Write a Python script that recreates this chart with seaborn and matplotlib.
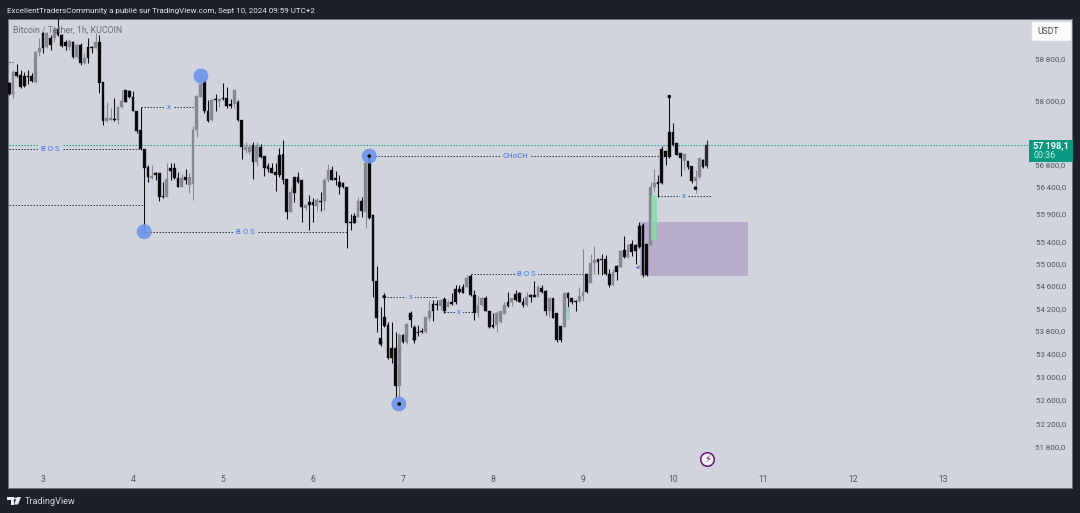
import matplotlib
matplotlib.use("Agg")
import matplotlib.pyplot as plt
from matplotlib.patches import Circle, FancyBboxPatch, Polygon, Rectangle
from matplotlib.ticker import NullLocator
from matplotlib.transforms import ScaledTranslation
import numpy as np
import pandas as pd
import seaborn as sns

# BTC/USDT hourly candles (open, high, low, close), hour 0 is midnight on the 3rd
first_hour = -9
candles = [
    (58360,58380,58130,58150),(58130,58610,58070,58570),(58570,58720,58470,58490),(58510,58610,58270,58280),
    (58490,58570,58280,58300),(58490,58610,58340,58470),(58490,58550,58380,58400),(58380,58970,58360,58950),
    (58950,59220,58880,59030),(59320,59340,58920,59030),(59050,59340,59030,59320),(59220,59280,58990,59090),
    (59220,59440,59140,59380),(59380,59610,59260,59280),(59280,59300,59050,59070),(59130,59180,58990,59070),
    (59050,59180,58990,59160),(59140,59160,58840,58860),(58860,59110,58840,59090),(59090,59110,58700,58740),
    (58740,58930,58720,58840),(59050,59220,58740,58840),(59050,59070,58920,59030),(59030,59320,59030,59130),
    (59130,59280,58170,58360),(58380,58380,57570,57640),(57640,58000,57620,57700),(57660,57890,57660,57700),
    (57680,58070,57640,57660),(57660,57910,57590,57910),(57910,58230,57890,58020),(58230,58230,58000,58000),
    (58210,58230,58080,58100),(58100,58210,57830,57830),(57830,57830,57420,57460),(57480,57910,57100,57120),
    (57120,57120,55620,56770),(56790,56830,56510,56610),(56590,56830,56570,56630),(56680,56700,56550,56640),
    (56680,56680,56170,56240),(56260,56520,56220,56240),(56240,56870,56240,56570),(56770,56870,56550,56720),
    (56770,56870,56570,56590),(56590,56700,56430,56430),(56430,56660,56430,56590),(56610,56760,56480,56550),
    (56460,56680,56320,56610),(56480,57550,56190,57480),(57480,58130,57350,58120),(58100,58510,58100,58340),
    (58420,58440,57790,57830),(57830,58040,57620,57640),(57660,58060,57640,58040),(58060,58150,57830,58040),
    (58020,58080,57910,58060),(58080,58360,58040,58060),(58080,58280,57890,57930),(57970,58060,57890,57930),
    (57970,58230,57890,58230),(58000,58040,57640,57660),(57660,57660,56940,57160),(57100,57250,57050,57160),
    (57070,57220,57030,57160),(57200,57250,56570,56880),(56880,57250,56830,57180),(57160,57220,56960,56980),
    (56990,56990,56630,56770),(56810,56870,56700,56760),(56770,56870,56680,56680),(56700,56870,56350,56640),
    (57010,57140,56610,56640),(57030,57290,56480,56550),(56570,56570,55840,55970),(55970,56420,55970,56330),
    (56610,56610,56150,56320),(56610,56700,56500,56520),(56550,56550,55790,56060),(56040,56100,56010,56100),
    (56150,56280,55640,56100),(56150,56220,55790,56100),(56080,56220,55990,56190),(56170,56330,55990,56150),
    (56170,56590,56010,56550),(56550,56850,56520,56740),(56740,56810,56550,56550),(56590,56720,56460,56550),
    (56520,56650,56300,56430),(56500,56520,56410,56430),(56430,56430,55320,55770),(55790,55930,55640,55770),
    (55900,55950,55770,55770),(55880,56240,55880,56170),(56170,56240,55880,55990),(55970,56890,55680,56870),
    (56960,57050,55840,55860),(55910,55910,54450,54730),(54730,55000,53830,54080),(53730,54270,53590,53640),
    (54100,54520,53920,53940),(53960,54010,53360,53380),(53560,54010,53300,53380),(53560,53830,52690,52900),
    (52900,53810,52560,53780),(53780,53800,53640,53660),(53660,53990,53620,53970),(54170,54190,53920,54040),
    (53920,53960,53640,53690),(53830,53960,53760,53810),(53850,53900,53810,53830),(53830,54100,53810,54100),
    (54080,54400,54030,54190),(54330,54400,54030,54190),(54330,54400,54220,54310),(54290,54410,54220,54400),
    (54410,54450,54170,54190),(54260,54400,54260,54360),(54350,54520,54310,54330),(54590,54660,54330,54350),
    (54590,54660,54520,54540),(54630,54680,54520,54520),(54630,54840,54630,54790),(54810,54860,54470,54480),
    (54480,54570,54040,54170),(54170,54470,54100,54310),(54310,54450,54280,54420),(54430,54470,54190,54190),
    (54190,54190,53900,53920),(53960,54170,53900,53920),(53960,54190,53830,54170),(54010,54190,53990,54190),
    (54150,54360,54150,54310),(54360,54540,54260,54290),(54350,54430,54280,54420),(54500,54560,54380,54400),
    (54520,54540,54350,54350),(54360,54430,54260,54310),(54310,54540,54290,54450),(54480,54500,54350,54450),
    (54480,54730,54450,54450),(54450,54660,54450,54630),(54610,54660,54520,54540),(54550,54570,54130,54200),
    (54200,54430,54100,54420),(54420,54430,54080,54080),(54170,54170,53660,53690),(53940,53940,53660,53690),
    (53920,54540,53920,54520),(54520,54540,54260,54420),(54430,54430,54330,54350),(54380,54400,54200,54350),
    (54380,54630,54360,54470),(54470,55300,54380,54540),(54860,54860,54520,54540),(54700,55210,54700,55050),
    (55050,55350,54860,55100),(55120,55120,54860,55070),(55120,55210,54840,55100),(55120,55190,54840,54860),
    (54860,54950,54630,54660),(54660,54950,54640,54880),(55000,55010,54750,54880),(54980,55280,54980,55260),
    (55280,55540,55140,55160),(55160,55390,55140,55370),(55390,55460,55180,55250),(55370,55390,55030,55260),
    (55710,55790,55320,55340),(55730,55770,54800,54840),(55390,55390,54820,54840),(55370,56520,55350,56430),
    (56430,56760,56330,56500),(56520,56650,56240,56480),(57120,57180,56480,56500),(57090,57090,56830,56980),
    (57440,58130,56960,56980),(57440,57610,57180,57200),(57240,57240,57010,57010),(57050,57050,56630,56960),
    (56900,57030,56740,57030),(56900,56900,56760,56790),(56810,56810,56500,56530),(56530,56740,56320,56610),
    (56610,56960,56590,56960),(56920,56940,56770,56790),(56810,57290,56770,57198.1),
]
last_price = 57198.1
countdown = "00:36"

price_ticks = [58800, 58000, 56800, 56400, 55900, 55400, 55000, 54600, 54200, 53800, 53400, 53000, 52600, 52200, 51800]
price_labels = ["58\u2009800,0", "58\u2009000,0", "56\u2009800,0", "56\u2009400,0", "55\u2009900,0", "55\u2009400,0", "55\u2009000,0",
                "54\u2009600,0", "54\u2009200,0", "53\u2009800,0", "53\u2009400,0", "53\u2009000,0", "52\u2009600,0", "52\u2009200,0", "51\u2009800,0"]
day_labels = [3, 4, 5, 6, 7, 8, 9, 10, 11, 12, 13]

# market-structure levels: start hour, end hour, price, label, label hour
levels = [
    (-10, -8, 58760, "", 0),
    (-10, 26, 57120, "B O S", 2),
    (-10, 27, 56100, "", 0),
    (26, 41, 57910, "x", 33.6),
    (27, 81, 55610, "B O S", 53.9),
    (87, 165, 56990, "CHoCH", 125.9),
    (91, 105, 54450, "x", 98),
    (107, 115, 54180, "x", 111),
    (114, 144, 54860, "B O S", 129),
    (158, 159, 54980, "x", 158.8),
    (164, 178, 56260, "x", 171),
]
swing_hours = [27, 42.1, 87, 94.9]
swing_prices = [55610, 58490, 56990, 52590]
pivot_hours = [91, 90, 98, 99, 167, 174, 87, 95]
pivot_prices = [54450, 53640, 54110, 53710, 58100, 56400, 56990, 52590]

# order block and imbalance zones: start hour, end hour, low, high
order_block = (159.2, 188, 54820, 55790)
imbalances = [(162.2, 163.6, 55460, 56280), (139.6, 140.4, 54040, 54260)]

# platform alert badge
badge_hour = 177.1
badge_price = 51613

PANE = "#d1d4dc"
DARK = "#1c202b"
UP = "#858892"
DOWN = "#0b0b0e"
TEAL = "#12a58c"
TAG = "#089981"
BLUE = "#3f74e4"


def quote(price):
    # small linear correction applied to the raw quotes, which run high in the lower range
    return price - (58040 - price) * 0.0074


sns.set_theme(style="white")
plt.rcParams["font.family"] = ["Roboto", "DejaVu Sans"]

fig = plt.figure(figsize=(10.8, 5.13), dpi=100, facecolor=DARK)
ax = fig.add_axes([7.5 / 1080, 1 - 488 / 513, (1072 - 7.5) / 1080, (488 - 19) / 513], facecolor=PANE)

frame = quote(pd.DataFrame(candles, columns=["open", "high", "low", "close"]))
frame.loc[frame.index[-1], "close"] = last_price
frame["hour"] = first_hour + frame.index
frame["rising"] = frame["close"] >= frame["open"]
tone = np.where(frame["rising"], UP, DOWN).tolist()
tone[-1] = "#2a2b30"  # the live candle stays dark until it closes

ax.set_yscale("log")
ax.set_xlim(-9.47, 274.4)
ax.set_ylim(51126, 59593)

ax.add_patch(Rectangle((order_block[0], quote(order_block[2])), order_block[1] - order_block[0],
                       quote(order_block[3]) - quote(order_block[2]), facecolor="#b7aecb", edgecolor="none", zorder=1))

# candles: thin wicks, then bodies on top
ax.vlines(frame["hour"], frame["low"], frame["high"], colors=tone, linewidth=0.75, zorder=3)
body_low = frame[["open", "close"]].min(axis=1)
body_high = frame[["open", "close"]].max(axis=1)
ax.bar(frame["hour"], body_high - body_low, bottom=body_low, width=0.72, color=tone,
       edgecolor=tone, linewidth=0.25, zorder=4)

for start, end, low, high in imbalances:
    ax.add_patch(Rectangle((start, quote(low)), end - start, quote(high) - quote(low), facecolor="#82dba4",
                           edgecolor="none", alpha=0.8, zorder=5))

# last-price line stops at the price tag
ax.plot([-10, 263.5], [last_price, last_price], color=TEAL, linewidth=0.72, linestyle=(0, (1.5, 1.5)), zorder=2)

for start, end, price, label, where in levels:
    ax.plot([start, end], [quote(price)] * 2, color="#3a3c44", linewidth=0.72, linestyle=(0, (1.5, 1.5)), zorder=2)
    if label:
        gap = dict(facecolor=PANE, edgecolor="none", pad=1.6) if end - start > 5 else None
        ax.text(where, quote(price), label, color=BLUE, fontsize=5.6, ha="center", va="center", zorder=6, bbox=gap)

swings = pd.DataFrame({"hour": swing_hours, "price": quote(np.array(swing_prices))})
sns.scatterplot(data=swings, x="hour", y="price", s=115, color="#6f96ea", edgecolor="none", alpha=0.92, zorder=7, ax=ax, legend=False)
pivots = pd.DataFrame({"hour": pivot_hours, "price": quote(np.array(pivot_prices))})
sns.scatterplot(data=pivots, x="hour", y="price", s=7, color="#0b0b0e", edgecolor="none", zorder=8, ax=ax, legend=False)

ax.set_xlabel("")
ax.set_ylabel("")
ax.set_xticks([(d - 3) * 24 for d in day_labels])
ax.set_xticklabels(day_labels)
ax.yaxis.tick_right()
ax.set_yticks(price_ticks)
ax.set_yticklabels(price_labels, ha="right")
ax.yaxis.set_minor_locator(NullLocator())
ax.tick_params(axis="x", length=0, pad=-9.5, labelsize=6.2, labelcolor="#50535e")
ax.tick_params(axis="y", length=0, pad=-4.5, labelsize=5.8, labelcolor="#50535e")
nudge = ScaledTranslation(0, 0.72 / 72, fig.dpi_scale_trans)
for tick_label in ax.get_yticklabels():
    tick_label.set_transform(tick_label.get_transform() + nudge)
for spine in ax.spines.values():
    spine.set_color("#6d7079")
    spine.set_linewidth(0.7)
ax.grid(False)


def fx(px):
    return px / 1080


def fy(py):
    return 1 - py / 513


# publication caption, chart title and footer brand
fig.text(fx(7), fy(10.5), "ExcellentTradersCommunity a publié sur TradingView.com, Sept 10, 2024 09:59 UTC+2",
         color="#e4e6ec", fontsize=5.75, va="center", ha="left")
fig.text(fx(13), fy(30), "Bitcoin / Tether, 1h, KUCOIN", color="#6a6d78", fontsize=6.3, va="center", ha="left", zorder=9)
fig.text(fx(24.5), fy(501), "TradingView", color="#d1d4dc", fontsize=6.6, va="center", ha="left")

logo = [
    Polygon([(fx(7), fy(497)), (fx(14), fy(497)), (fx(14), fy(504.5)), (fx(10.5), fy(504.5)), (fx(10.5), fy(500)), (fx(7), fy(500))],
            transform=fig.transFigure, facecolor="#e8eaf0", edgecolor="none"),
    Polygon([(fx(17), fy(497)), (fx(21), fy(497)), (fx(18), fy(504.5)), (fx(14), fy(504.5))],
            transform=fig.transFigure, facecolor="#e8eaf0", edgecolor="none"),
    Circle((fx(15.5), fy(498.5)), 0.0016, transform=fig.transFigure, facecolor="#e8eaf0", edgecolor="none"),
]
for part in logo:
    fig.add_artist(part)

# currency button
fig.add_artist(FancyBboxPatch((fx(1032), fy(41)), fx(39), 19 / 513, boxstyle="round,pad=0,rounding_size=0.002",
                              transform=fig.transFigure, facecolor="#fbfbfc", edgecolor="#e6e7ec", linewidth=0.5))
fig.text(fx(1048), fy(32), "USDT", color="#45474f", fontsize=6.2, va="center", ha="center")

# last-price tag
fig.add_artist(Rectangle((fx(1029), fy(162)), fx(43.5), 22 / 513, transform=fig.transFigure, facecolor=TAG, edgecolor="none"))
fig.text(fx(1033), fy(146), "57\u2009198,1", color="white", fontsize=6.7, fontweight="bold", va="center", ha="left")
fig.text(fx(1033), fy(156), countdown, color="#cdeee6", fontsize=6.4, va="center", ha="left")

# lightning alert badge
ax.scatter([badge_hour], [badge_price], s=95, facecolor="#f2f0f5", edgecolor="#5c1a6e", linewidth=1.1, zorder=9)
ax.text(badge_hour, badge_price, "\u26a1", color="#5c1a6e", fontsize=7, ha="center", va="center", zorder=10,
        family=["DejaVu Sans"])

fig.savefig("out.png", dpi=100, facecolor=DARK)
